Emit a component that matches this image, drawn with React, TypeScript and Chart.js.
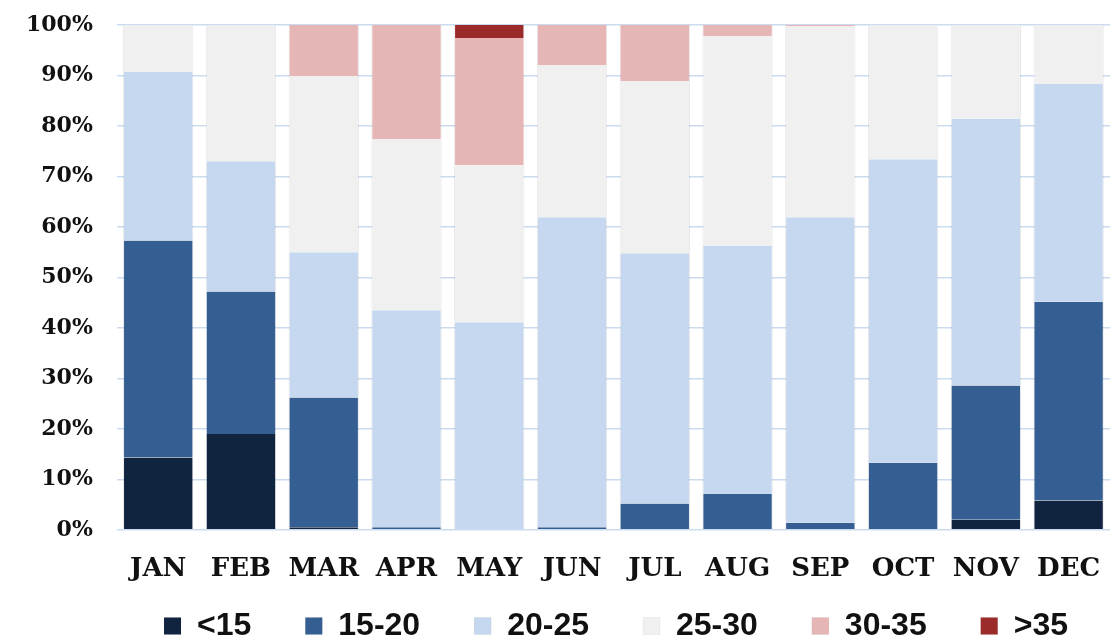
import React, { useEffect, useRef } from "react";
import { Chart, registerables } from "chart.js";

Chart.register(...registerables);

const months = ["JAN", "FEB", "MAR", "APR", "MAY", "JUN", "JUL", "AUG", "SEP", "OCT", "NOV", "DEC"];
const seriesNames = ["<15", "15-20", "20-25", "25-30", "30-35", ">35"];

const below15 = [14.3, 19.0, 0.5, 0, 0, 0, 0, 0, 0, 0, 2.0, 5.8];
const r15to20 = [43.0, 28.2, 25.7, 0.5, 0, 0.5, 5.2, 7.1, 1.4, 13.3, 26.6, 39.4];
const r20to25 = [33.4, 25.8, 28.8, 43.0, 41.1, 61.4, 49.6, 49.1, 60.5, 60.1, 52.9, 43.1];
const r25to30 = [9.3, 27.0, 34.9, 33.9, 31.1, 30.2, 34.1, 41.6, 37.8, 26.6, 18.5, 11.7];
const r30to35 = [0, 0, 10.1, 22.6, 25.2, 7.9, 11.1, 2.2, 0.3, 0, 0, 0];
const above35 = [0, 0, 0, 0, 2.6, 0, 0, 0, 0, 0, 0, 0];

const yTicks = [0, 10, 20, 30, 40, 50, 60, 70, 80, 90, 100];

const colors = ["#10233f", "#355f92", "#c5d8ef", "#f0f0f0", "#e6b5b5", "#9b2a2a"];

const legendShift = {
  id: "legendShift",
  afterLayout(chart: any) {
    const l = chart.legend;
    if (!l) return;
    const dx = 616 - (l.left + l.right) / 2;
    l.left += dx;
    l.right += dx;
    const pad = l.options.labels.padding;
    l.top = 610 - pad;
    l.bottom = chart.height;
    l.height = l.bottom - l.top;
  },
};

export default function App() {
  const ref = useRef<HTMLCanvasElement | null>(null);
  useEffect(() => {
    if (!ref.current) return;
    const all = [below15, r15to20, r20to25, r25to30, r30to35, above35];
    const chart = new Chart(ref.current, {
      type: "bar",
      data: {
        labels: months,
        datasets: all.map((d, i) => ({
          label: seriesNames[i],
          data: d,
          backgroundColor: colors[i],
          borderColor: "rgba(0,0,0,0.09)",
          borderWidth: { left: 1, right: 1, top: 0, bottom: 0 },
          borderSkipped: false,
          barPercentage: 0.85,
          categoryPercentage: 1.0,
        })),
      },
      options: {
        animation: false,
        responsive: true,
        maintainAspectRatio: false,
        layout: { padding: { left: 2, right: 0, top: 25, bottom: 0 } },
        plugins: {
          tooltip: { enabled: false },
          legend: {
            position: "bottom",
            maxHeight: 32,
            labels: {
              boxWidth: 17,
              boxHeight: 17,
              padding: 54,
              color: "#111",
              font: { family: "Liberation Sans", weight: "bold", size: 32 },
            },
          },
        },
        scales: {
          x: {
            stacked: true,
            grid: { display: false, drawTicks: false },
            border: { display: false },
            ticks: {
              color: "#111",
              padding: 24,
              font: { family: "DejaVu Serif", weight: "bold", size: 26 },
            },
            afterFit: (s: any) => {
              s.paddingLeft = 0;
              s.paddingRight = 0;
            },
          },
          y: {
            stacked: true,
            min: 0,
            max: 100,
            afterBuildTicks: (axis: any) => {
              axis.ticks = yTicks.map((v) => ({ value: v }));
            },
            afterFit: (s: any) => {
              s.paddingTop = 0;
              s.paddingBottom = 0;
            },
            grid: { color: "#cbdcf0", lineWidth: 1.5, drawTicks: false },
            border: { display: false },
            ticks: {
              color: "#111",
              padding: 24,
              font: { family: "DejaVu Serif", weight: "bold", size: 22 },
              callback: (v: any) => v + "%",
            },
          },
        },
      },
      plugins: [legendShift],
    });
    return () => chart.destroy();
  }, []);
  return (
    <div style={{ position: "fixed", left: 0, top: 0, width: 1110, height: 641, background: "#fff" }}>
      <canvas ref={ref} />
    </div>
  );
}
